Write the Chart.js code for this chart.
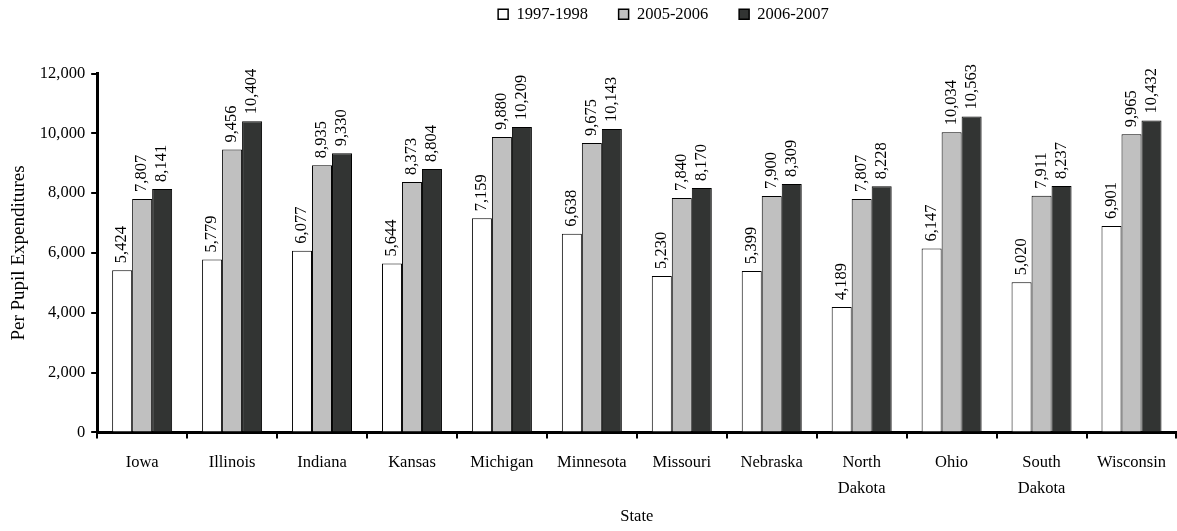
<!DOCTYPE html>
<html>
<head>
<meta charset="utf-8">
<script src="https://cdn.jsdelivr.net/npm/chart.js@4/dist/chart.umd.min.js"></script>
<style>
html,body{margin:0;padding:0;background:#fff;}
#wrap{width:1177px;height:531px;position:relative;}
</style>
</head>
<body>
<div id="wrap"><canvas id="c" width="1177" height="531"></canvas></div>
<script>
const states = ['Iowa','Illinois','Indiana','Kansas','Michigan','Minnesota','Missouri','Nebraska',['North','Dakota'],'Ohio',['South','Dakota'],'Wisconsin'];
const seriesNames = ['1997-1998','2005-2006','2006-2007'];
const v1997 = [5424,5779,6077,5644,7159,6638,5230,5399,4189,6147,5020,6901];
const v2005 = [7807,9456,8935,8373,9880,9675,7840,7900,7807,10034,7911,9965];
const v2006 = [8141,10404,9330,8804,10209,10143,8170,8309,8228,10563,8237,10432];
const yTicks = [0,2000,4000,6000,8000,10000,12000];

const FONT = "'Liberation Serif', 'Times New Roman', serif";
const FS = 16.5;
const fmt = v => v.toLocaleString('en-US');

const labelPlugin = {
  id: 'barLabels',
  afterDatasetsDraw(chart) {
    const ctx = chart.ctx;
    ctx.save();
    ctx.font = FS + 'px ' + FONT;
    ctx.fillStyle = '#000';
    ctx.textAlign = 'left';
    ctx.textBaseline = 'middle';
    chart.data.datasets.forEach((ds, i) => {
      const meta = chart.getDatasetMeta(i);
      meta.data.forEach((bar, j) => {
        ctx.save();
        ctx.translate(bar.x, bar.y - 7);
        ctx.rotate(-Math.PI / 2);
        ctx.fillText(fmt(ds.data[j]), 0, 0);
        ctx.restore();
      });
    });
    ctx.restore();
  }
};

const legendSpace = {
  id: 'legendSpace',
  beforeInit(chart) {
    const orig = chart.legend.fit;
    chart.legend.fit = function () {
      orig.call(this);
      this.height += 41;
    };
  },
  afterLayout(chart) {
    chart.legend.left += 71;
    chart.legend.right += 71;
  }
};

const pads = ['\u00a0\u00a0\u00a0\u00a0\u00a0\u00a0', '\u00a0\u00a0\u00a0\u00a0\u00a0\u00a0', ''];

new Chart(document.getElementById('c'), {
  type: 'bar',
  data: {
    labels: states,
    datasets: [
      {label: seriesNames[0], data: v1997, backgroundColor: '#ffffff', borderColor: '#000', borderWidth: 1},
      {label: seriesNames[1], data: v2005, backgroundColor: '#c0c0c0', borderColor: '#000', borderWidth: 1},
      {label: seriesNames[2], data: v2006, backgroundColor: '#323433', borderColor: '#000', borderWidth: 1}
    ]
  },
  options: {
    responsive: false,
    animation: false,
    layout: {padding: {left: 8, right: 0, top: 0, bottom: 4}},
    datasets: {bar: {categoryPercentage: 0.667, barPercentage: 1}},
    plugins: {
      legend: {
        position: 'top',
        labels: {
          font: {family: FONT, size: FS, lineHeight: 1.0}, color: '#000',
          boxWidth: 10, boxHeight: 10, padding: 6,
          generateLabels(chart) {
            const items = Chart.defaults.plugins.legend.labels.generateLabels(chart);
            items.forEach((it, i) => {
              it.lineWidth = 1.5;
              it.strokeStyle = '#000';
              it.text = it.text + pads[i];
            });
            return items;
          }
        },
      },
      tooltip: {enabled: false}
    },
    scales: {
      x: {
        afterFit(scale) { scale.height -= 6; },
        grid: {display: true, drawOnChartArea: false, drawTicks: true, tickLength: 6, offset: true, color: '#000', lineWidth: 2},
        border: {display: true, color: '#000', width: 3},
        ticks: {font: {family: FONT, size: FS, lineHeight: 1.6}, color: '#000', maxRotation: 0, autoSkip: false, padding: 11},
        title: {display: true, text: 'State', font: {family: FONT, size: FS}, color: '#000', padding: {top: 0, bottom: 0}}
      },
      y: {
        min: 0, max: 12000,
        afterBuildTicks(axis) { axis.ticks = yTicks.map(v => ({value: v})); },
        grid: {display: true, drawOnChartArea: false, drawTicks: true, tickLength: 6, color: '#000', lineWidth: 2},
        border: {display: true, color: '#000', width: 3},
        ticks: {font: {family: FONT, size: FS}, color: '#000', padding: 6, callback: v => fmt(v)},
        title: {display: true, text: 'Per Pupil Expenditures', font: {family: FONT, size: 19}, color: '#000', padding: {top: 0, bottom: 3}}
      }
    }
  },
  plugins: [labelPlugin, legendSpace]
});
</script>
</body>
</html>
